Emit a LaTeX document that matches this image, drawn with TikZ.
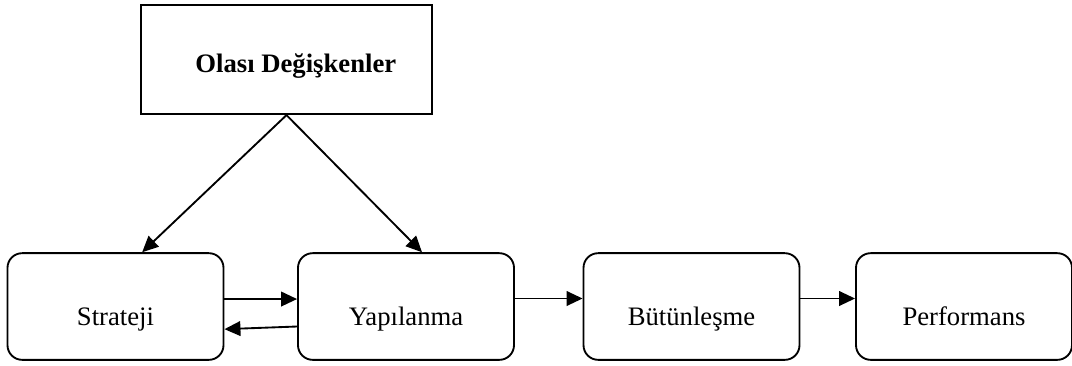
\documentclass[tikz,border=0pt]{standalone}
\usepackage{fontspec}
\setmainfont{Liberation Serif}
\usetikzlibrary{arrows.meta}

\tikzset{every picture/.style={line width=1.4pt}}
\tikzset{
  kutu/.style={draw, rounded corners=11pt, minimum width=162pt, minimum height=80pt, inner sep=0pt, font=\fontsize{20}{24}\selectfont},
  ustkutu/.style={draw, minimum width=218pt, minimum height=82pt, inner sep=0pt, font=\fontsize{20}{24}\selectfont\bfseries},
  ok/.style={-{Triangle[length=12pt,width=11pt]}}
}
\newcommand{\asagi}[2]{\raisebox{-#1}[0pt][0pt]{#2}}

\begin{document}
\begin{tikzpicture}[x=0.75pt,y=0.75pt,yscale=-1,xscale=1]
\useasboundingbox (0,0) rectangle (1072,365);
% Top box
\node [ustkutu] (olasi) at (286.5,59.5) {\asagi{10pt}{\hspace{14pt}Olası Değişkenler}};
% Process boxes
\node [kutu] (strateji) at (115.5,306.5) {\asagi{14pt}{Strateji}};
\node [kutu] (yapilanma) at (406,306.5) {\asagi{14pt}{Yapılanma}};
\node [kutu] (butunlesme) at (691.5,306.5) {\asagi{14pt}{Bütünleşme}};
\node [kutu] (performans) at (964,306.5) {\asagi{14pt}{Performans}};
% Arrows
\draw [ok] (olasi.south) -- ([xshift=20pt]strateji.north);
\draw [ok] (olasi.south) -- ([xshift=12pt]yapilanma.north);
\draw [ok] ([yshift=-5.6pt]strateji.east) -- ([yshift=-5.6pt]yapilanma.west);
\draw [ok] ([yshift=15pt]yapilanma.west) -- ([yshift=17pt]strateji.east);
\draw [ok] ([yshift=-6pt]yapilanma.east) -- ([yshift=-6pt]butunlesme.west);
\draw [ok] ([yshift=-6pt]butunlesme.east) -- ([yshift=-6pt]performans.west);
\end{tikzpicture}
\end{document}
